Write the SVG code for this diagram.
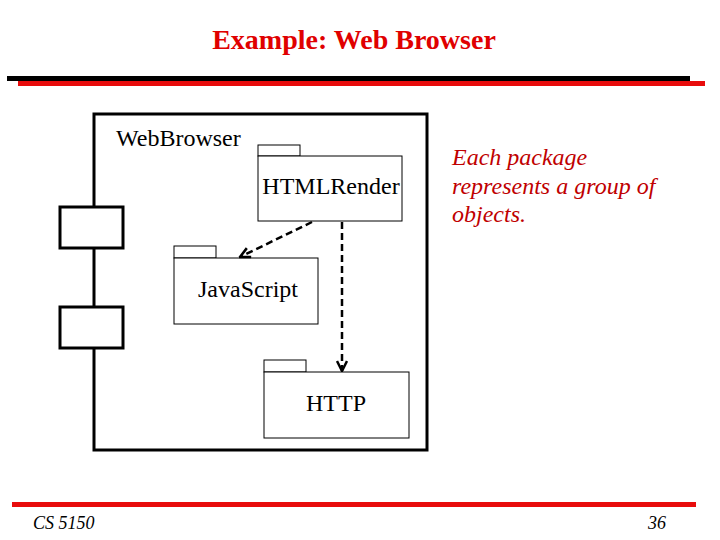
<svg xmlns="http://www.w3.org/2000/svg" width="720" height="540" viewBox="0 0 720 540">
<defs>
<style>
text{font-family:'Liberation Serif','Times New Roman',Times,'DejaVu Serif',serif}
.t{fill:#000}
.pk{fill:#fff;stroke:#000;stroke-width:1}
.bx{fill:#fff;stroke:#000;stroke-width:3}
.dash{fill:none;stroke:#000;stroke-width:2.5;stroke-dasharray:7 4}
.red{font-style:italic;fill:#c00000;font-size:24px}
</style>
<marker id="arr" viewBox="0 0 10 10" refX="9" refY="5" markerWidth="5" markerHeight="5" orient="auto" markerUnits="strokeWidth">
<path d="M1,1 L9,5 L1,9" fill="none" stroke="#000" stroke-width="2"/>
</marker>
</defs>
<rect width="720" height="540" fill="#fff"/>
<text x="354" y="49" text-anchor="middle" font-weight="bold" font-size="28" fill="#e00000">Example: Web Browser</text>
<rect x="7" y="76" width="683" height="5" fill="#000"/>
<rect x="18" y="81" width="687" height="5" fill="#e80c0c"/>
<rect x="12" y="502" width="684" height="5" fill="#e80c0c"/>
<text x="33" y="529" class="t" font-style="italic" font-size="18">CS 5150</text>
<text x="666" y="529" class="t" font-style="italic" font-size="18" text-anchor="end">36</text>

<g id="WebBrowser">
<rect x="94" y="114" width="333" height="336" fill="none" stroke="#000" stroke-width="3"/>
<rect class="bx" x="60" y="207" width="63" height="41"/>
<rect class="bx" x="60" y="307" width="63" height="41"/>
<text x="116" y="146" class="t" font-size="24">WebBrowser</text>
</g>
<g id="HTMLRender">
<rect class="pk" x="258" y="145" width="42" height="11"/>
<rect class="pk" x="258" y="156" width="144" height="65"/>
<text x="331" y="194" class="t" font-size="24" text-anchor="middle">HTMLRender</text>
</g>
<g id="JavaScript">
<rect class="pk" x="174" y="246" width="42" height="12"/>
<rect class="pk" x="174" y="258" width="144" height="66"/>
<text x="248" y="297" class="t" font-size="24" text-anchor="middle">JavaScript</text>
</g>
<g id="HTTP">
<rect class="pk" x="264" y="360" width="42" height="12"/>
<rect class="pk" x="264" y="372" width="145" height="66"/>
<text x="336" y="411" class="t" font-size="24" text-anchor="middle">HTTP</text>
</g>
<g id="connectors">
<line class="dash" x1="312" y1="222" x2="240" y2="257" marker-end="url(#arr)"/>
<line class="dash" x1="342" y1="222" x2="342" y2="371" marker-end="url(#arr)"/>
</g>
<g id="note">
<text class="red" x="452" y="165">Each package</text>
<text class="red" x="452" y="194">represents a group of</text>
<text class="red" x="452" y="222">objects.</text>
</g>
</svg>
